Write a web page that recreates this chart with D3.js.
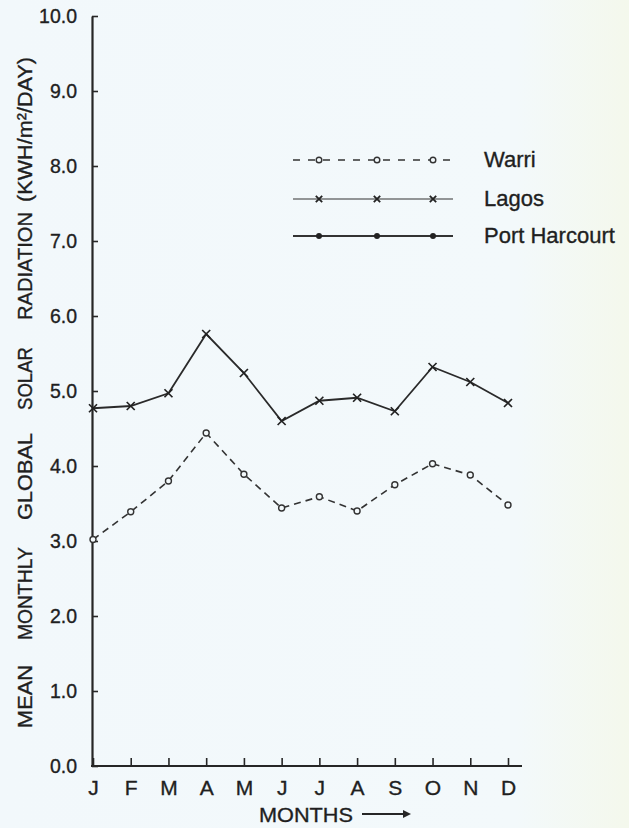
<!DOCTYPE html>
<html>
<head>
<meta charset="utf-8">
<script src="https://cdn.jsdelivr.net/npm/d3@7"></script>
<style>
  html, body { margin: 0; padding: 0; background: #f3f9fb; }
  svg { display: block; }
  text { font-family: "Liberation Sans", "DejaVu Sans", sans-serif; fill: #1f1f1f; }
</style>
</head>
<body>
<svg id="chart" width="629" height="828"></svg>
<script>
// ---- data ----
const months = ["J", "F", "M", "A", "M", "J", "J", "A", "S", "O", "N", "D"];
const warri = [3.02, 3.39, 3.80, 4.44, 3.89, 3.44, 3.59, 3.40, 3.75, 4.03, 3.88, 3.48];
const lagos = [4.77, 4.80, 4.97, 5.76, 5.24, 4.60, 4.87, 4.91, 4.73, 5.32, 5.12, 4.84];
const portHarcourt = []; // listed in the legend only, no points plotted
const yTicks = [0, 1, 2, 3, 4, 5, 6, 7, 8, 9, 10];
const seriesNames = ["Warri", "Lagos", "Port Harcourt"];
const yTitleWords = ["MEAN", "MONTHLY", "GLOBAL", "SOLAR", "RADIATION", "(KWH/m²/DAY)"];

const svg = d3.select("#chart");
const W = 629, H = 828;

const defs = svg.append("defs");
const grad = defs.append("linearGradient").attr("id", "bg").attr("x1", 0).attr("x2", 1).attr("y1", 0).attr("y2", 0);
grad.append("stop").attr("offset", "0%").attr("stop-color", "#f2f8fb");
grad.append("stop").attr("offset", "82%").attr("stop-color", "#f3f9fb");
grad.append("stop").attr("offset", "100%").attr("stop-color", "#f4f8ec");
svg.append("rect").attr("width", W).attr("height", H).attr("fill", "url(#bg)");

const x = d3.scalePoint().domain(d3.range(months.length)).range([93, 508]);
const y = d3.scaleLinear().domain([0, 10]).range([766, 16]);

const ink = "#262626";
const textStroke = sel => sel.attr("stroke", "#1f1f1f").attr("stroke-width", 0.35);

// Y axis
const yAxis = d3.axisLeft(y).tickValues(yTicks).tickFormat(d3.format(".1f"))
  .tickSize(-6).tickSizeOuter(0).tickPadding(15);
const gy = svg.append("g").attr("transform", `translate(${x(0) - 1},0)`).call(yAxis);
gy.select(".domain").attr("stroke", ink).attr("stroke-width", 2.2);
gy.selectAll(".tick line").attr("stroke", ink).attr("stroke-width", 1.6);
gy.selectAll(".tick text").attr("font-size", 19.5).attr("fill", "#1f1f1f")
  .attr("font-family", "Liberation Sans, sans-serif").call(textStroke);

// X axis
const xAxis = d3.axisBottom(x).tickFormat(i => months[i]).tickSize(-8).tickSizeOuter(0).tickPadding(14);
const gx = svg.append("g").attr("transform", `translate(0,${y(0)})`).call(xAxis);
gx.select(".domain").remove();
gx.append("line").attr("x1", x(0) - 2).attr("x2", x(months.length - 1) + 14)
  .attr("y1", 0).attr("y2", 0).attr("stroke", ink).attr("stroke-width", 2.2);
gx.selectAll(".tick line").attr("stroke", ink).attr("stroke-width", 1.6);
gx.selectAll(".tick text").attr("font-size", 21).attr("fill", "#1f1f1f")
  .attr("font-family", "Liberation Sans, sans-serif").call(textStroke);

// X title
const xt = svg.append("g");
xt.append("text").attr("x", 259).attr("y", 822).attr("font-size", 21)
  .attr("textLength", 94).attr("lengthAdjust", "spacingAndGlyphs").text("MONTHS").call(textStroke);
xt.append("line").attr("x1", 362).attr("x2", 405).attr("y1", 814).attr("y2", 814)
  .attr("stroke", ink).attr("stroke-width", 1.8);
xt.append("path").attr("d", "M403,810 L411,814 L403,818 Z").attr("fill", ink);

// Y title: words spaced as in reference (bottom-to-top)
const wordSpans = [[728, 665], [640, 547], [520, 433], [410, 347], [320, 212], [202, 57]];
const yt = svg.append("text").attr("transform", "rotate(-90)").attr("font-size", 21).call(textStroke);
yTitleWords.forEach((w, i) => {
  const [y0, y1] = wordSpans[i];
  yt.append("tspan").attr("x", -y0).attr("y", 32)
    .attr("textLength", y0 - y1).attr("lengthAdjust", "spacingAndGlyphs").text(w);
});

// lines
const line = d3.line().x((d, i) => x(i)).y(d => y(d));

svg.append("path").datum(warri).attr("d", line).attr("fill", "none")
  .attr("stroke", "#333").attr("stroke-width", 1.6).attr("stroke-dasharray", "7,5");
svg.append("path").datum(lagos).attr("d", line).attr("fill", "none")
  .attr("stroke", "#2a2a2a").attr("stroke-width", 1.8);

const xMark = (cx, cy, s) => `M${cx - s},${cy - s}L${cx + s},${cy + s}M${cx - s},${cy + s}L${cx + s},${cy - s}`;

svg.append("g").selectAll("path").data(lagos).join("path")
  .attr("d", (d, i) => xMark(x(i), y(d), 4)).attr("stroke", "#222").attr("stroke-width", 1.7);

svg.append("g").selectAll("circle").data(warri).join("circle")
  .attr("cx", (d, i) => x(i)).attr("cy", d => y(d)).attr("r", 3)
  .attr("fill", "#f3f9fb").attr("stroke", "#333").attr("stroke-width", 1.4);

// legend
const legendRows = [160, 199, 236];
const lg = svg.append("g");
const lx0 = 293, lx1 = 453, markX = [319, 377, 433];
seriesNames.forEach((name, i) => {
  const ly = legendRows[i];
  const ln = lg.append("line").attr("x1", lx0).attr("x2", lx1).attr("y1", ly).attr("y2", ly).attr("stroke", "#333");
  if (i === 0) {
    ln.attr("stroke-width", 1.6).attr("stroke-dasharray", "7,8");
    markX.forEach(mx => lg.append("circle").attr("cx", mx).attr("cy", ly).attr("r", 2.8)
      .attr("fill", "#f3f9fb").attr("stroke", "#333").attr("stroke-width", 1.4));
  } else if (i === 1) {
    ln.attr("stroke-width", 1.2);
    markX.forEach(mx => lg.append("path").attr("d", xMark(mx, ly, 3.2)).attr("stroke", "#222").attr("stroke-width", 1.8));
  } else {
    ln.attr("stroke-width", 2.2);
    markX.forEach(mx => lg.append("circle").attr("cx", mx).attr("cy", ly).attr("r", 3).attr("fill", "#222"));
  }
  lg.append("text").attr("x", 484).attr("y", ly + 7).attr("font-size", 22).call(textStroke).text(name);
});
</script>
</body>
</html>
